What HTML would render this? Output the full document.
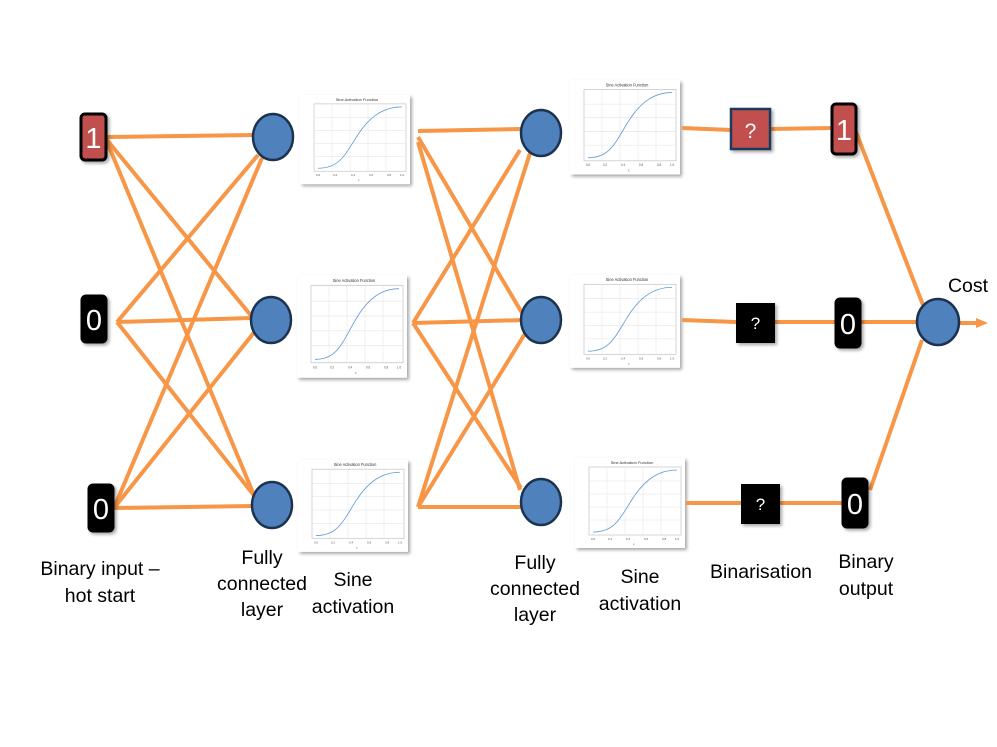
<!DOCTYPE html>
<html><head><meta charset="utf-8"><style>
html,body{margin:0;padding:0;background:#fff;}
svg{display:block;font-family:"Liberation Sans",sans-serif;}
</style></head><body>
<svg width="997" height="747" viewBox="0 0 997 747">
<defs>
<filter id="sh" x="-10%" y="-10%" width="130%" height="130%"><feDropShadow dx="2" dy="2" stdDeviation="1.5" flood-color="#000" flood-opacity="0.35"/></filter>
<g id="plot">
<rect x="0" y="0" width="110" height="90" fill="#fff" filter="url(#sh)"/>
<text x="57" y="6" font-size="4" text-anchor="middle" fill="#333">Sine Activation Function</text>
<rect x="14" y="9" width="92" height="68" fill="none" stroke="#bbb" stroke-width="0.6"/>
<g stroke="#e2e2e2" stroke-width="0.5">
<line x1="32" y1="9" x2="32" y2="77"/><line x1="50" y1="9" x2="50" y2="77"/><line x1="68" y1="9" x2="68" y2="77"/><line x1="86" y1="9" x2="86" y2="77"/>
<line x1="14" y1="23" x2="106" y2="23"/><line x1="14" y1="36" x2="106" y2="36"/><line x1="14" y1="49" x2="106" y2="49"/><line x1="14" y1="62" x2="106" y2="62"/>
</g>
<path d="M18 74 C 40 74, 45 60, 58 40 S 85 12, 102 12" fill="none" stroke="#5b9bd5" stroke-width="0.8"/>
<g font-size="3" fill="#555"><text x="16" y="82">0.0</text><text x="33" y="82">0.2</text><text x="51" y="82">0.4</text><text x="69" y="82">0.6</text><text x="87" y="82">0.8</text><text x="100" y="82">1.0</text><text x="58" y="87">x</text></g>
</g>
</defs>

<use href="#plot" transform="translate(300,95) scale(1.0,0.99)"/>
<use href="#plot" transform="translate(297,275) scale(1.0,1.14)"/>
<use href="#plot" transform="translate(298,460) scale(1.0,1.02)"/>
<use href="#plot" transform="translate(570,80) scale(1.0,1.05)"/>
<use href="#plot" transform="translate(570,275) scale(1.0,1.03)"/>
<use href="#plot" transform="translate(575,458) scale(1.0,1.0)"/>

<g stroke="#f79646" stroke-width="4" stroke-linecap="butt" fill="none">
<line x1="107" y1="137" x2="254" y2="135"/>
<line x1="107" y1="140" x2="253" y2="318"/>
<line x1="107" y1="142" x2="256" y2="500"/>
<line x1="117" y1="322" x2="258" y2="155"/>
<line x1="117" y1="322" x2="251" y2="318"/>
<line x1="117" y1="322" x2="256" y2="498"/>
<line x1="114" y1="508" x2="262" y2="158"/>
<line x1="114" y1="508" x2="256" y2="330"/>
<line x1="114" y1="508" x2="253" y2="506"/>
<line x1="418" y1="131" x2="521" y2="129"/>
<line x1="418" y1="137" x2="522" y2="313"/>
<line x1="418" y1="142" x2="520" y2="490"/>
<line x1="413" y1="323" x2="520" y2="150"/>
<line x1="413" y1="323" x2="525" y2="320"/>
<line x1="413" y1="323" x2="521" y2="488"/>
<line x1="418" y1="507" x2="530" y2="153"/>
<line x1="418" y1="507" x2="526" y2="332"/>
<line x1="418" y1="507" x2="521" y2="507"/>
<line x1="682" y1="128" x2="731" y2="130"/>
<line x1="770" y1="129" x2="832" y2="128"/>
<line x1="682" y1="320" x2="736" y2="322"/>
<line x1="775" y1="322" x2="836" y2="322"/>
<line x1="686" y1="503" x2="741" y2="503"/>
<line x1="780" y1="503" x2="843" y2="503"/>
<line x1="856" y1="132" x2="923" y2="305"/>
<line x1="861" y1="322" x2="917" y2="322"/>
<line x1="870" y1="490" x2="922" y2="340"/>
<line x1="959" y1="323" x2="977" y2="323"/>
</g>
<polygon points="976,318 988,323 976,328" fill="#f79646"/>

<g fill="#4f81bd" stroke="#1c334f" stroke-width="2.5">
<ellipse cx="273" cy="137" rx="20" ry="23"/>
<ellipse cx="271" cy="320" rx="20" ry="23"/>
<ellipse cx="272" cy="505" rx="20" ry="23"/>
<ellipse cx="541" cy="133" rx="20" ry="23"/>
<ellipse cx="541" cy="320" rx="20" ry="23"/>
<ellipse cx="541" cy="502" rx="20" ry="23"/>
<ellipse cx="938" cy="322" rx="21" ry="23"/>
</g>

<g stroke="#000" stroke-width="3" filter="url(#sh)">
<rect x="81" y="114" width="25" height="46" rx="4" fill="#c0504d"/>
<rect x="82" y="296" width="24" height="46" rx="4" fill="#000"/>
<rect x="89" y="485" width="24" height="46" rx="4" fill="#000"/>
<rect x="832" y="104" width="24" height="50" rx="4" fill="#c0504d"/>
<rect x="836" y="299" width="24" height="48" rx="4" fill="#000"/>
<rect x="843" y="479" width="24" height="48" rx="4" fill="#000"/>
</g>
<g fill="#fff" font-size="29" text-anchor="middle">
<text x="93.5" y="148">1</text>
<text x="94" y="330">0</text>
<text x="101" y="519">0</text>
<text x="844" y="140">1</text>
<text x="848" y="334">0</text>
<text x="855" y="514">0</text>
</g>

<rect x="731" y="109" width="39" height="40" fill="#c0504d" stroke="#1f3a5f" stroke-width="2.5" filter="url(#sh)"/>
<rect x="736" y="303" width="39" height="40" fill="#000" filter="url(#sh)"/>
<rect x="741" y="484" width="39" height="40" fill="#000" filter="url(#sh)"/>
<g fill="#fff" text-anchor="middle">
<text x="750.5" y="138" font-size="21">?</text>
<text x="755.5" y="329" font-size="17">?</text>
<text x="760.5" y="510" font-size="17">?</text>
</g>

<g font-size="19.5" fill="#000" text-anchor="middle">
<text x="100" y="575">Binary input –</text>
<text x="100" y="602">hot start</text>
<text x="262" y="564">Fully</text>
<text x="262" y="590">connected</text>
<text x="262" y="616">layer</text>
<text x="353" y="586">Sine</text>
<text x="353" y="613">activation</text>
<text x="535" y="569">Fully</text>
<text x="535" y="595">connected</text>
<text x="535" y="621">layer</text>
<text x="640" y="583">Sine</text>
<text x="640" y="610">activation</text>
<text x="761" y="578">Binarisation</text>
<text x="866" y="568">Binary</text>
<text x="866" y="595">output</text>
<text x="968" y="292">Cost</text>
</g>
</svg>
</body></html>
